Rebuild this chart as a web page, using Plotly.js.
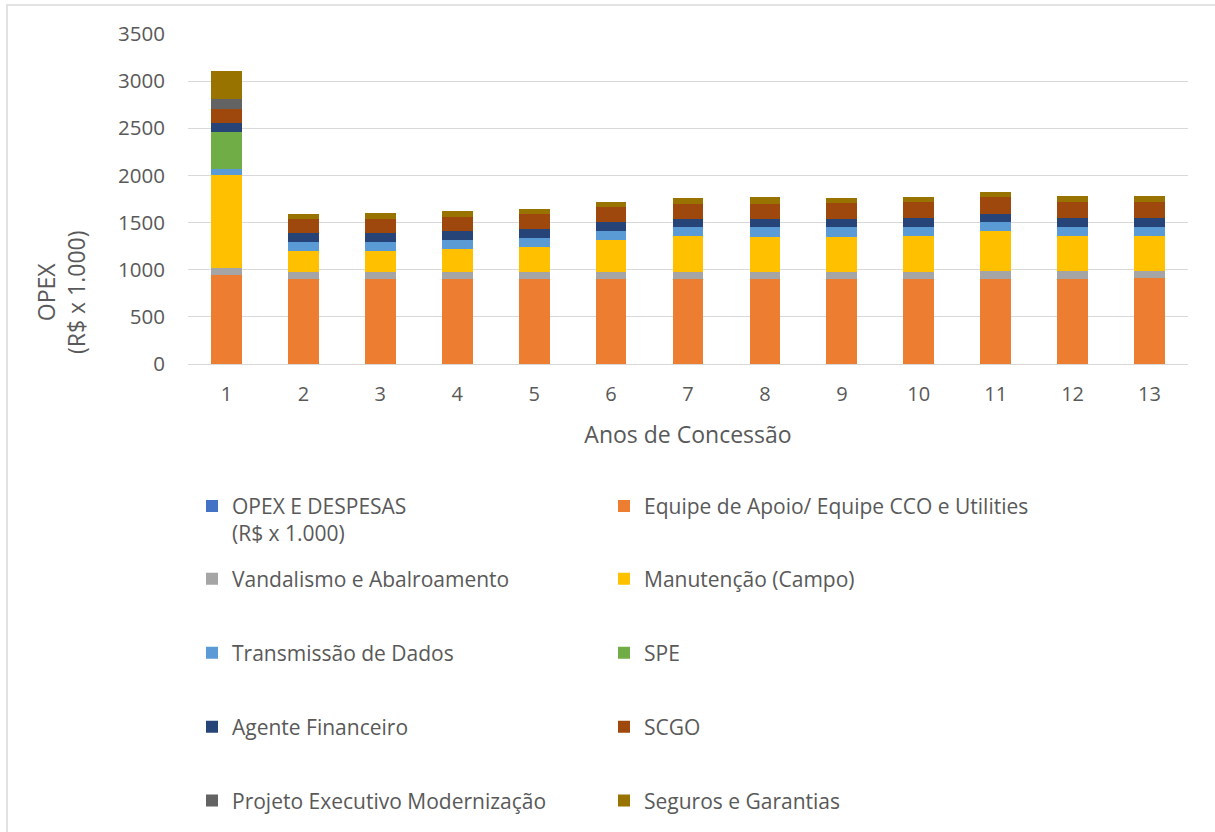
<!DOCTYPE html>
<html>
<head>
<meta charset="utf-8">
<script src="https://cdn.plot.ly/plotly-3.0.1.min.js"></script>
<style>html,body{margin:0;padding:0;background:#fff;}#chart{width:1215px;height:832px;}</style>
</head>
<body>
<div id="chart"></div>
<script>
const anos = ['1','2','3','4','5','6','7','8','9','10','11','12','13'];

const opexDespesas = [0,0,0,0,0,0,0,0,0,0,0,0,0];
const equipeApoio  = [940, 897, 901, 901, 901, 901, 901, 901, 901, 904, 904, 901, 911];
const vandalismo   = [81, 82, 78, 78, 74, 74, 74, 74, 74, 71, 78, 81, 71];
const manutencao   = [986, 220, 220, 241, 263, 341, 380, 376, 376, 380, 426, 376, 380];
const transmissao  = [64, 95, 95, 92, 95, 95, 95, 99, 99, 95, 95, 96, 92];
const spe          = [386, 0, 0, 0, 0, 0, 0, 0, 0, 0, 0, 0, 0];
const agente       = [100, 93, 93, 96, 96, 96, 93, 89, 89, 96, 93, 99, 99];
const scgo         = [145, 148, 156, 156, 160, 160, 159, 163, 170, 167, 170, 170, 170];
const projeto      = [106, 0, 0, 0, 0, 0, 0, 0, 0, 0, 0, 0, 0];
const seguros      = [295, 57, 56, 56, 53, 56, 57, 64, 53, 57, 57, 57, 57];

const seriesNames = [
  'OPEX E DESPESAS<br>(R$ x 1.000)',
  'Equipe de Apoio/ Equipe CCO e Utilities<br>&nbsp;',
  'Vandalismo e Abalroamento',
  'Manutenção (Campo)',
  'Transmissão de Dados',
  'SPE',
  'Agente Financeiro',
  'SCGO',
  'Projeto Executivo Modernização',
  'Seguros e Garantias'
];
const seriesValues = [opexDespesas, equipeApoio, vandalismo, manutencao, transmissao, spe, agente, scgo, projeto, seguros];
const seriesColors = ['#4472C4','#ED7D31','#A5A5A5','#FFC000','#5B9BD5','#70AD47','#264478','#9E480E','#636363','#997300'];
const legendIds = ['legend','legend','legend2','legend2','legend3','legend3','legend4','legend4','legend5','legend5'];

const FONT = 'Open Sans, Liberation Sans, sans-serif';
const TXT = '#595959';

const traces = seriesNames.map((n, i) => ({
  type: 'bar',
  name: n,
  x: anos,
  y: seriesValues[i],
  marker: {color: seriesColors[i], line: {width: 0}},
  legend: legendIds[i],
  legendwidth: (i % 2 === 0) ? 367 : 450,
  hoverinfo: 'x+y+name'
}));

function leg(y, valign) {
  return {
    orientation: 'h', xref: 'paper', x: 0.004, xanchor: 'left',
    yref: 'container', y: y, yanchor: 'middle',
    font: {family: FONT, size: 21, color: TXT},
    entrywidthmode: 'pixels',
    valign: valign || 'middle', bgcolor: 'rgba(0,0,0,0)', borderwidth: 0,
    traceorder: 'normal'
  };
}

const layout = {
  width: 1215, height: 832,
  paper_bgcolor: '#ffffff', plot_bgcolor: '#ffffff',
  font: {family: FONT, color: TXT},
  margin: {l: 188, r: 27, t: 34, b: 468, autoexpand: false},
  barmode: 'stack',
  bargap: 0.6,
  showlegend: true,
  xaxis: {
    type: 'category', showgrid: false, showline: false, zeroline: false,
    ticks: 'outside', ticklen: 12, tickcolor: 'rgba(0,0,0,0)',
    tickfont: {family: FONT, size: 20, color: TXT},
    title: {text: 'Anos de Concessão', font: {family: FONT, size: 23, color: TXT}, standoff: 20}
  },
  yaxis: {
    range: [0, 3500], dtick: 500, showgrid: true, gridcolor: '#D9D9D9', gridwidth: 1.3,
    zeroline: true, zerolinecolor: '#D9D9D9', zerolinewidth: 1.3, showline: false,
    ticks: 'outside', ticklen: 18, tickcolor: 'rgba(0,0,0,0)',
    tickfont: {family: FONT, size: 20.5, color: TXT}
  },
  annotations: [{
    xref: 'paper', yref: 'paper', x: -0.127, y: 0.218, xanchor: 'center', yanchor: 'middle',
    text: 'OPEX<br>(R$ x 1.000)', textangle: -90, showarrow: false,
    font: {family: FONT, size: 23, color: TXT}
  }],
  shapes: [{
    type: 'rect', xref: 'paper', yref: 'paper', x0: -0.181, x1: 1.05, y0: 1.088, y1: -1.6,
    line: {color: '#D9D9D9', width: 1.5}, fillcolor: 'rgba(0,0,0,0)', layer: 'below'
  }],
  legend: leg(0.3752, 'top'),
  legend2: leg(0.3041),
  legend3: leg(0.2151),
  legend4: leg(0.1262),
  legend5: leg(0.0373)
};

Plotly.newPlot('chart', traces, layout, {displayModeBar: false, staticPlot: false});
</script>
</body>
</html>
